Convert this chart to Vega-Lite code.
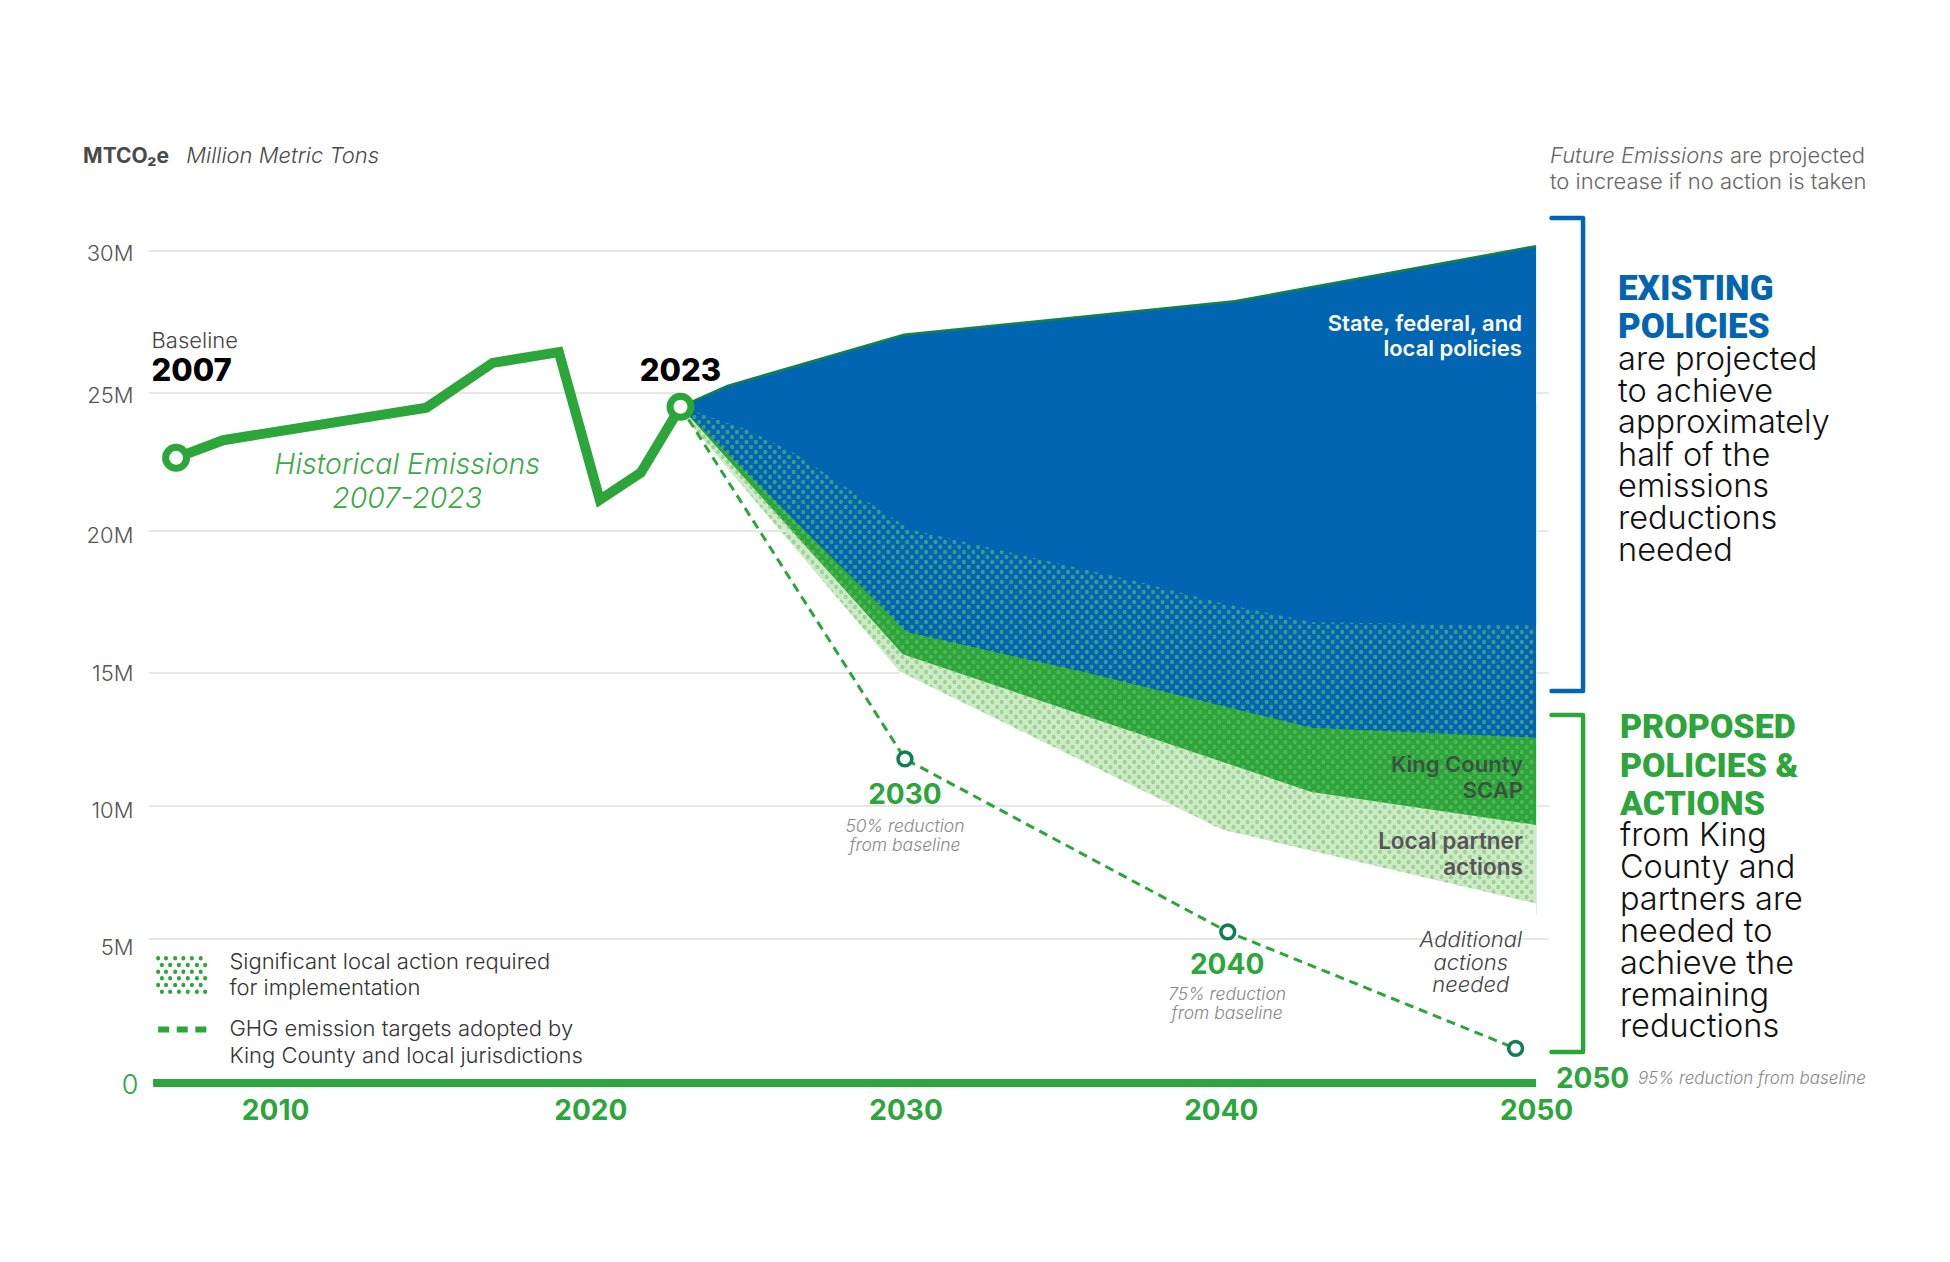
{
  "$schema": "https://vega.github.io/schema/vega-lite/v6.json",
  "width": 1400,
  "height": 832,
  "autosize": {"type": "none"},
  "padding": {"left": 149, "top": 251, "right": 401, "bottom": 179},
  "background": "white",
  "config": {
    "view": {"stroke": null},
    "text": {"font": "Inter", "baseline": "alphabetic"}
  },
  "datasets": {
    "dotsA": [{"yr":2023,"val":24.5,"lo":6},{"yr":2023.3,"val":24.5,"lo":6},{"yr":2023.6,"val":24.5,"lo":6},{"yr":2023.9,"val":24.5,"lo":6},{"yr":2024.2,"val":24.5,"lo":6},{"yr":2024.5,"val":24.5,"lo":6},{"yr":2024.8,"val":24.5,"lo":6},{"yr":2025.1,"val":24.5,"lo":6},{"yr":2025.4,"val":24.5,"lo":6},{"yr":2025.7,"val":24.5,"lo":6},
      {"yr":2026,"val":24.5,"lo":6},{"yr":2026.3,"val":24.5,"lo":6},{"yr":2026.6,"val":24.5,"lo":6},{"yr":2026.9,"val":24.5,"lo":6},{"yr":2027.2,"val":24.5,"lo":6},{"yr":2027.5,"val":24.5,"lo":6},{"yr":2027.8,"val":24.5,"lo":6},{"yr":2028.1,"val":24.5,"lo":6},{"yr":2028.4,"val":24.5,"lo":6},{"yr":2028.7,"val":24.5,"lo":6},
      {"yr":2029,"val":24.5,"lo":6},{"yr":2029.3,"val":24.5,"lo":6},{"yr":2029.6,"val":24.5,"lo":6},{"yr":2029.9,"val":24.5,"lo":6},{"yr":2030.2,"val":24.5,"lo":6},{"yr":2030.5,"val":24.5,"lo":6},{"yr":2030.8,"val":24.5,"lo":6},{"yr":2031.1,"val":24.5,"lo":6},{"yr":2031.4,"val":24.5,"lo":6},{"yr":2031.7,"val":24.5,"lo":6},
      {"yr":2032,"val":24.5,"lo":6},{"yr":2032.3,"val":24.5,"lo":6},{"yr":2032.6,"val":24.5,"lo":6},{"yr":2032.9,"val":24.5,"lo":6},{"yr":2033.2,"val":24.5,"lo":6},{"yr":2033.5,"val":24.5,"lo":6},{"yr":2033.8,"val":24.5,"lo":6},{"yr":2034.1,"val":24.5,"lo":6},{"yr":2034.4,"val":24.5,"lo":6},{"yr":2034.7,"val":24.5,"lo":6},
      {"yr":2035,"val":24.5,"lo":6},{"yr":2035.3,"val":24.5,"lo":6},{"yr":2035.6,"val":24.5,"lo":6},{"yr":2035.9,"val":24.5,"lo":6},{"yr":2036.2,"val":24.5,"lo":6},{"yr":2036.5,"val":24.5,"lo":6},{"yr":2036.8,"val":24.5,"lo":6},{"yr":2037.1,"val":24.5,"lo":6},{"yr":2037.4,"val":24.5,"lo":6},{"yr":2037.7,"val":24.5,"lo":6},
      {"yr":2038,"val":24.5,"lo":6},{"yr":2038.3,"val":24.5,"lo":6},{"yr":2038.6,"val":24.5,"lo":6},{"yr":2038.9,"val":24.5,"lo":6},{"yr":2039.2,"val":24.5,"lo":6},{"yr":2039.5,"val":24.5,"lo":6},{"yr":2039.8,"val":24.5,"lo":6},{"yr":2040.1,"val":24.5,"lo":6},{"yr":2040.4,"val":24.5,"lo":6},{"yr":2040.7,"val":24.5,"lo":6},
      {"yr":2041,"val":24.5,"lo":6},{"yr":2041.3,"val":24.5,"lo":6},{"yr":2041.6,"val":24.5,"lo":6},{"yr":2041.9,"val":24.5,"lo":6},{"yr":2042.2,"val":24.5,"lo":6},{"yr":2042.5,"val":24.5,"lo":6},{"yr":2042.8,"val":24.5,"lo":6},{"yr":2043.1,"val":24.5,"lo":6},{"yr":2043.4,"val":24.5,"lo":6},{"yr":2043.7,"val":24.5,"lo":6},
      {"yr":2044,"val":24.5,"lo":6},{"yr":2044.3,"val":24.5,"lo":6},{"yr":2044.6,"val":24.5,"lo":6},{"yr":2044.9,"val":24.5,"lo":6},{"yr":2045.2,"val":24.5,"lo":6},{"yr":2045.5,"val":24.5,"lo":6},{"yr":2045.8,"val":24.5,"lo":6},{"yr":2046.1,"val":24.5,"lo":6},{"yr":2046.4,"val":24.5,"lo":6},{"yr":2046.7,"val":24.5,"lo":6},
      {"yr":2047,"val":24.5,"lo":6},{"yr":2047.3,"val":24.5,"lo":6},{"yr":2047.6,"val":24.5,"lo":6},{"yr":2047.9,"val":24.5,"lo":6},{"yr":2048.2,"val":24.5,"lo":6},{"yr":2048.5,"val":24.5,"lo":6},{"yr":2048.8,"val":24.5,"lo":6},{"yr":2049.1,"val":24.5,"lo":6},{"yr":2049.4,"val":24.5,"lo":6},{"yr":2049.7,"val":24.5,"lo":6}],
    "dotsB": [{"yr":2023.15,"val":24.5,"lo":6},{"yr":2023.45,"val":24.5,"lo":6},{"yr":2023.75,"val":24.5,"lo":6},{"yr":2024.05,"val":24.5,"lo":6},{"yr":2024.35,"val":24.5,"lo":6},{"yr":2024.65,"val":24.5,"lo":6},{"yr":2024.95,"val":24.5,"lo":6},{"yr":2025.25,"val":24.5,"lo":6},{"yr":2025.55,"val":24.5,"lo":6},{"yr":2025.85,"val":24.5,"lo":6},
      {"yr":2026.15,"val":24.5,"lo":6},{"yr":2026.45,"val":24.5,"lo":6},{"yr":2026.75,"val":24.5,"lo":6},{"yr":2027.05,"val":24.5,"lo":6},{"yr":2027.35,"val":24.5,"lo":6},{"yr":2027.65,"val":24.5,"lo":6},{"yr":2027.95,"val":24.5,"lo":6},{"yr":2028.25,"val":24.5,"lo":6},{"yr":2028.55,"val":24.5,"lo":6},{"yr":2028.85,"val":24.5,"lo":6},
      {"yr":2029.15,"val":24.5,"lo":6},{"yr":2029.45,"val":24.5,"lo":6},{"yr":2029.75,"val":24.5,"lo":6},{"yr":2030.05,"val":24.5,"lo":6},{"yr":2030.35,"val":24.5,"lo":6},{"yr":2030.65,"val":24.5,"lo":6},{"yr":2030.95,"val":24.5,"lo":6},{"yr":2031.25,"val":24.5,"lo":6},{"yr":2031.55,"val":24.5,"lo":6},{"yr":2031.85,"val":24.5,"lo":6},
      {"yr":2032.15,"val":24.5,"lo":6},{"yr":2032.45,"val":24.5,"lo":6},{"yr":2032.75,"val":24.5,"lo":6},{"yr":2033.05,"val":24.5,"lo":6},{"yr":2033.35,"val":24.5,"lo":6},{"yr":2033.65,"val":24.5,"lo":6},{"yr":2033.95,"val":24.5,"lo":6},{"yr":2034.25,"val":24.5,"lo":6},{"yr":2034.55,"val":24.5,"lo":6},{"yr":2034.85,"val":24.5,"lo":6},
      {"yr":2035.15,"val":24.5,"lo":6},{"yr":2035.45,"val":24.5,"lo":6},{"yr":2035.75,"val":24.5,"lo":6},{"yr":2036.05,"val":24.5,"lo":6},{"yr":2036.35,"val":24.5,"lo":6},{"yr":2036.65,"val":24.5,"lo":6},{"yr":2036.95,"val":24.5,"lo":6},{"yr":2037.25,"val":24.5,"lo":6},{"yr":2037.55,"val":24.5,"lo":6},{"yr":2037.85,"val":24.5,"lo":6},
      {"yr":2038.15,"val":24.5,"lo":6},{"yr":2038.45,"val":24.5,"lo":6},{"yr":2038.75,"val":24.5,"lo":6},{"yr":2039.05,"val":24.5,"lo":6},{"yr":2039.35,"val":24.5,"lo":6},{"yr":2039.65,"val":24.5,"lo":6},{"yr":2039.95,"val":24.5,"lo":6},{"yr":2040.25,"val":24.5,"lo":6},{"yr":2040.55,"val":24.5,"lo":6},{"yr":2040.85,"val":24.5,"lo":6},
      {"yr":2041.15,"val":24.5,"lo":6},{"yr":2041.45,"val":24.5,"lo":6},{"yr":2041.75,"val":24.5,"lo":6},{"yr":2042.05,"val":24.5,"lo":6},{"yr":2042.35,"val":24.5,"lo":6},{"yr":2042.65,"val":24.5,"lo":6},{"yr":2042.95,"val":24.5,"lo":6},{"yr":2043.25,"val":24.5,"lo":6},{"yr":2043.55,"val":24.5,"lo":6},{"yr":2043.85,"val":24.5,"lo":6},
      {"yr":2044.15,"val":24.5,"lo":6},{"yr":2044.45,"val":24.5,"lo":6},{"yr":2044.75,"val":24.5,"lo":6},{"yr":2045.05,"val":24.5,"lo":6},{"yr":2045.35,"val":24.5,"lo":6},{"yr":2045.65,"val":24.5,"lo":6},{"yr":2045.95,"val":24.5,"lo":6},{"yr":2046.25,"val":24.5,"lo":6},{"yr":2046.55,"val":24.5,"lo":6},{"yr":2046.85,"val":24.5,"lo":6},
      {"yr":2047.15,"val":24.5,"lo":6},{"yr":2047.45,"val":24.5,"lo":6},{"yr":2047.75,"val":24.5,"lo":6},{"yr":2048.05,"val":24.5,"lo":6},{"yr":2048.35,"val":24.5,"lo":6},{"yr":2048.65,"val":24.5,"lo":6},{"yr":2048.95,"val":24.5,"lo":6},{"yr":2049.25,"val":24.5,"lo":6},{"yr":2049.55,"val":24.5,"lo":6},{"yr":2049.85,"val":24.5,"lo":6}],
    "projected": [{"yr":2022.86,"val":24.5},{"yr":2024.35,"val":25.25},{"yr":2029.95,"val":27.05},{"yr":2040.45,"val":28.23},{"yr":2050,"val":30.17}]
  },
  "encoding": {
    "x": {
      "field": "yr",
      "type": "quantitative",
      "title": null,
      "scale": {"domain": [2006, 2050.41], "nice": false, "zero": false},
      "axis": {
        "values": [2010, 2020, 2030, 2040, 2050],
        "format": "d",
        "domain": false,
        "ticks": false,
        "grid": false,
        "labelFont": "Inter",
        "labelFontWeight": 700,
        "labelFontSize": 28,
        "labelColor": "#2ca53a",
        "labelPadding": 14,
        "labelFlush": false,
        "labelOverlap": false
      }
    },
    "y": {
      "field": "val",
      "type": "quantitative",
      "title": null,
      "scale": {
        "domain": [0, 5, 10, 15, 20, 25, 30],
        "range": [832, 688, 555, 422, 280, 142, 0],
        "nice": false,
        "zero": false
      },
      "axis": {
        "values": [0, 5, 10, 15, 20, 25, 30],
        "labelExpr": "datum.value == 0 ? '0' : datum.value + 'M'",
        "domain": false,
        "ticks": false,
        "grid": false,
        "labelFont": "Inter",
        "labelFontWeight": 300,
        "labelFontSize": {"condition": {"test": "datum.value == 0", "value": 27}, "value": 22},
        "labelColor": {"condition": {"test": "datum.value == 0", "value": "#2ca53a"}, "value": "#555555"},
        "labelPadding": 16,
        "labelOverlap": false,
        "encoding": {
          "labels": {
            "dy": {"value": {"expr": "datum.value == 5 ? 8 : datum.value == 10 ? 4 : datum.value == 20 ? 4 : datum.value == 15 ? 0 : 2"}},
            "dx": {"value": {"expr": "datum.value == 0 ? 5 : 0"}}
          }
        }
      }
    }
  },
  "layer": [
    {
      "data": {"name": "projected"},
      "mark": {"type": "area", "color": "#0265b1"},
      "encoding": {"y2": {"datum": 5.9}}
    },
    {
      "data": {"values": [{"yr":2022.86,"val":24.5},{"yr":2030.04,"val":16.44},{"yr":2035.6,"val":15.05},{"yr":2042.88,"val":12.94},{"yr":2050,"val":12.57}]},
      "mark": {"type": "area", "color": "#2ca53a"},
      "encoding": {"y2": {"datum": 5.9}}
    },
    {
      "data": {"values": [{"yr":2022.86,"val":24.5},{"yr":2029.91,"val":15.66},{"yr":2042.88,"val":10.53},{"yr":2050,"val":9.29}]},
      "mark": {"type": "area", "color": "#d0e9c6"},
      "encoding": {"y2": {"datum": 5.9}}
    },
    {
      "data": {"name": "dotsA"},
      "mark": {"type": "rule", "color": "#6cc46f", "opacity": 0.55, "strokeWidth": 4, "strokeCap": "round", "strokeDash": [0.5, 9.5]},
      "encoding": {"y2": {"field": "lo"}}
    },
    {
      "data": {"name": "dotsB"},
      "mark": {"type": "rule", "color": "#6cc46f", "opacity": 0.55, "strokeWidth": 4, "strokeCap": "round", "strokeDash": [0.5, 9.5], "strokeDashOffset": 5},
      "encoding": {"y2": {"field": "lo"}}
    },
    {
      "data": {"values": [{"yr":2022.86,"val":24.5},{"yr":2025,"val":23.66},{"yr":2026.5,"val":22.8},{"yr":2030.13,"val":20.06},{"yr":2037.4,"val":18.21},{"yr":2040.1,"val":17.44},{"yr":2042.88,"val":16.8},{"yr":2050,"val":16.67}]},
      "mark": {"type": "area", "color": "#0265b1"},
      "encoding": {"y2": {"datum": 24.62}}
    },
    {
      "data": {"values": [{"yr":2022.7,"val":24.5},{"yr":2029.8,"val":15.06},{"yr":2040.05,"val":9.11},{"yr":2050,"val":6.33}]},
      "mark": {"type": "area", "color": "white"},
      "encoding": {"y2": {"datum": 5.8}}
    },
    {
      "data": {"values": [
        {"yr":2006,"yr2":2049.2,"val":30},
        {"yr":2006,"yr2":2022.86,"val":25},{"yr":2050,"yr2":2050.41,"val":25},
        {"yr":2006,"yr2":2026.2,"val":20},{"yr":2050,"yr2":2050.41,"val":20},
        {"yr":2006,"yr2":2029.8,"val":15},{"yr":2050,"yr2":2050.41,"val":15},
        {"yr":2006,"yr2":2038.44,"val":10},{"yr":2050,"yr2":2050.41,"val":10},
        {"yr":2006,"yr2":2050.41,"val":5}
      ]},
      "mark": {"type": "rule", "color": "#e8e8e8", "strokeWidth": 2},
      "encoding": {"x2": {"field": "yr2"}}
    },
    {
      "data": {"values": [{"yr":2006.13,"yr2":2050,"val":0}]},
      "mark": {"type": "rule", "color": "#2ca53a", "strokeWidth": 8},
      "encoding": {"x2": {"field": "yr2"}}
    },
    {
      "data": {"name": "projected"},
      "mark": {"type": "line", "color": "#12804f", "strokeWidth": 2.5}
    },
    {
      "data": {"values": [{"yr":2022.86,"val":24.5},{"yr":2029.98,"val":11.77},{"yr":2040.22,"val":5.27},{"yr":2049.35,"val":1.2}]},
      "mark": {"type": "line", "color": "#2ca53a", "strokeWidth": 3, "strokeDash": [9, 6]}
    },
    {
      "data": {"values": [{"yr":2029.98,"val":11.77},{"yr":2040.22,"val":5.27},{"yr":2049.35,"val":1.2}]},
      "mark": {"type": "circle", "fill": "white", "stroke": "#0f7f52", "strokeWidth": 3.5, "size": 190, "opacity": 1}
    },
    {
      "data": {"values": [
        {"yr":2006.86,"val":22.65},{"yr":2008.35,"val":23.29},{"yr":2014.8,"val":24.47},{"yr":2016.9,"val":26.06},
        {"yr":2019.0,"val":26.44},{"yr":2020.3,"val":21.13},{"yr":2021.6,"val":22.11},{"yr":2022.86,"val":24.5}
      ]},
      "mark": {"type": "line", "color": "#2ca53a", "strokeWidth": 10, "strokeJoin": "miter"}
    },
    {
      "data": {"values": [{"yr":2006.86,"val":22.65},{"yr":2022.86,"val":24.5}]},
      "mark": {"type": "circle", "fill": "white", "stroke": "#2ca53a", "strokeWidth": 7, "size": 440, "opacity": 1}
    },
    {
      "data": {"values": [{"i":1,"yr":2050.49,"val":31.16},{"i":2,"yr":2051.49,"val":31.16},{"i":3,"yr":2051.49,"val":14.32},{"i":4,"yr":2050.49,"val":14.32}]},
      "mark": {"type": "line", "color": "#0265b1", "strokeWidth": 4.5, "strokeCap": "round", "strokeJoin": "round"},
      "encoding": {"order": {"field": "i"}}
    },
    {
      "data": {"values": [{"i":1,"yr":2050.49,"val":13.42},{"i":2,"yr":2051.49,"val":13.42},{"i":3,"yr":2051.49,"val":1.08},{"i":4,"yr":2050.49,"val":1.08}]},
      "mark": {"type": "line", "color": "#2ca53a", "strokeWidth": 4.5, "strokeCap": "round", "strokeJoin": "round"},
      "encoding": {"order": {"field": "i"}}
    },
    {
      "data": {"values": [{"yr":2006.29,"val":4.34,"lo":3.22},{"yr":2006.54,"val":4.34,"lo":3.22},{"yr":2006.83,"val":4.34,"lo":3.22},{"yr":2007.09,"val":4.34,"lo":3.22},{"yr":2007.36,"val":4.34,"lo":3.22},{"yr":2007.64,"val":4.34,"lo":3.22}]},
      "mark": {"type": "rule", "color": "#2ca53a", "strokeWidth": 4, "strokeCap": "round", "strokeDash": [0.5, 12.9]},
      "encoding": {"y2": {"field": "lo"}}
    },
    {
      "data": {"values": [{"yr":2006.41,"val":4.11,"lo":3},{"yr":2006.67,"val":4.11,"lo":3},{"yr":2006.95,"val":4.11,"lo":3},{"yr":2007.23,"val":4.11,"lo":3},{"yr":2007.52,"val":4.11,"lo":3},{"yr":2007.78,"val":4.11,"lo":3}]},
      "mark": {"type": "rule", "color": "#2ca53a", "strokeWidth": 4, "strokeCap": "round", "strokeDash": [0.5, 12.9]},
      "encoding": {"y2": {"field": "lo"}}
    },
    {
      "data": {"values": [{"yr":2006.29,"yr2":2007.82,"val":1.86}]},
      "mark": {"type": "rule", "color": "#2ca53a", "strokeWidth": 6, "strokeDash": [11, 7.6]},
      "encoding": {"x2": {"field": "yr2"}}
    },
    {
      "data": {"values": [{"yr":2003.91,"val":33.11,"t":"MTCO₂e"}]},
      "mark": {"type": "text", "align": "left", "fontSize": 21, "fontWeight": 700, "color": "#4a4a4a"},
      "encoding": {"text": {"field": "t"}}
    },
    {
      "data": {"values": [{"yr":2007.18,"val":33.11,"t":"Million Metric Tons"}]},
      "mark": {"type": "text", "align": "left", "fontSize": 22, "fontWeight": 300, "fontStyle": "italic", "color": "#4a4a4a"},
      "encoding": {"text": {"field": "t"}}
    },
    {
      "data": {"values": [{"yr":2006.08,"val":26.6,"t":"Baseline"}]},
      "mark": {"type": "text", "align": "left", "fontSize": 22, "fontWeight": 300, "color": "#444444"},
      "encoding": {"text": {"field": "t"}}
    },
    {
      "data": {"values": [{"yr":2006.08,"val":25.43,"t":"2007"}]},
      "mark": {"type": "text", "align": "left", "fontSize": 31, "fontWeight": 800, "color": "black"},
      "encoding": {"text": {"field": "t"}}
    },
    {
      "data": {"values": [{"yr":2022.86,"val":25.43,"t":"2023"}]},
      "mark": {"type": "text", "align": "center", "fontSize": 31, "fontWeight": 800, "color": "black"},
      "encoding": {"text": {"field": "t"}}
    },
    {
      "data": {"values": [{"yr":2014.19,"val":22.05,"t":"Historical Emissions"},{"yr":2014.19,"val":20.82,"t":"2007-2023"}]},
      "mark": {"type": "text", "align": "center", "fontSize": 28.5, "fontWeight": 300, "fontStyle": "italic", "color": "#3aaa48"},
      "encoding": {"text": {"field": "t"}}
    },
    {
      "data": {"values": [{"yr":2050.44,"val":33.11,"t":"Future Emissions"}]},
      "mark": {"type": "text", "align": "left", "fontSize": 22, "fontWeight": 300, "fontStyle": "italic", "color": "#666666"},
      "encoding": {"text": {"field": "t"}}
    },
    {
      "data": {"values": [{"yr":2056.15,"val":33.11,"t":"are projected"},{"yr":2050.44,"val":32.18,"t":"to increase if no action is taken"}]},
      "mark": {"type": "text", "align": "left", "fontSize": 22, "fontWeight": 300, "color": "#666666"},
      "encoding": {"text": {"field": "t"}}
    },
    {
      "data": {"values": [{"yr":2052.6,"val":28.27,"t":"EXISTING"},{"yr":2052.6,"val":26.93,"t":"POLICIES"}]},
      "mark": {"type": "text", "align": "left", "font": "Roboto", "fontSize": 35, "fontWeight": 900, "color": "#0265b1"},
      "encoding": {"text": {"field": "t"}}
    },
    {
      "data": {"values": [{"yr":2052.66,"val":12.55,"t":"PROPOSED"},{"yr":2052.66,"val":11.1,"t":"POLICIES &"},{"yr":2052.66,"val":9.66,"t":"ACTIONS"}]},
      "mark": {"type": "text", "align": "left", "font": "Roboto", "fontSize": 34, "fontWeight": 900, "color": "#2ca53a"},
      "encoding": {"text": {"field": "t"}}
    },
    {
      "data": {"values": [
        {"yr":2052.6,"val":25.81,"t":"are projected"},{"yr":2052.6,"val":24.68,"t":"to achieve"},{"yr":2052.6,"val":23.55,"t":"approximately"},
        {"yr":2052.6,"val":22.37,"t":"half of the"},{"yr":2052.6,"val":21.24,"t":"emissions"},{"yr":2052.6,"val":20.07,"t":"reductions"},{"yr":2052.6,"val":18.95,"t":"needed"},
        {"yr":2052.66,"val":8.5,"t":"from King"},{"yr":2052.66,"val":7.28,"t":"County and"},{"yr":2052.66,"val":6.09,"t":"partners are"},
        {"yr":2052.66,"val":4.91,"t":"needed to"},{"yr":2052.66,"val":3.77,"t":"achieve the"},{"yr":2052.66,"val":2.67,"t":"remaining"},{"yr":2052.66,"val":1.58,"t":"reductions"}
      ]},
      "mark": {"type": "text", "align": "left", "fontSize": 32.5, "fontWeight": 300, "color": "#111111"},
      "encoding": {"text": {"field": "t"}}
    },
    {
      "data": {"values": [{"yr":2050.63,"val":-0.19,"t":"2050"}]},
      "mark": {"type": "text", "align": "left", "fontSize": 28, "fontWeight": 700, "color": "#2ca53a"},
      "encoding": {"text": {"field": "t"}}
    },
    {
      "data": {"values": [{"yr":2053.23,"val":-0.04,"t":"95% reduction from baseline"}]},
      "mark": {"type": "text", "align": "left", "fontSize": 17, "fontWeight": 300, "fontStyle": "italic", "color": "#888888"},
      "encoding": {"text": {"field": "t"}}
    },
    {
      "data": {"values": [{"yr":2049.55,"val":27.19,"t":"State, federal, and"},{"yr":2049.55,"val":26.3,"t":"local policies"}]},
      "mark": {"type": "text", "align": "right", "fontSize": 22, "fontWeight": 600, "color": "white"},
      "encoding": {"text": {"field": "t"}}
    },
    {
      "data": {"values": [{"yr":2049.58,"val":11.26,"t":"King County"},{"yr":2049.58,"val":10.3,"t":"SCAP"}]},
      "mark": {"type": "text", "align": "right", "fontSize": 22, "fontWeight": 600, "color": "#3b5240"},
      "encoding": {"text": {"field": "t"}}
    },
    {
      "data": {"values": [{"yr":2049.58,"val":8.38,"t":"Local partner"},{"yr":2049.58,"val":7.4,"t":"actions"}]},
      "mark": {"type": "text", "align": "right", "fontSize": 22.5, "fontWeight": 600, "color": "#555555"},
      "encoding": {"text": {"field": "t"}}
    },
    {
      "data": {"values": [{"yr":2047.93,"val":4.73,"t":"Additional"},{"yr":2047.93,"val":3.94,"t":"actions"},{"yr":2047.93,"val":3.16,"t":"needed"}]},
      "mark": {"type": "text", "align": "center", "fontSize": 22, "fontWeight": 300, "fontStyle": "italic", "color": "#444444"},
      "encoding": {"text": {"field": "t"}}
    },
    {
      "data": {"values": [{"yr":2029.98,"val":10.09,"t":"2030"},{"yr":2040.2,"val":3.77,"t":"2040"}]},
      "mark": {"type": "text", "align": "center", "fontSize": 28, "fontWeight": 700, "color": "#2ca53a"},
      "encoding": {"text": {"field": "t"}}
    },
    {
      "data": {"values": [
        {"yr":2029.98,"val":9.02,"t":"50% reduction"},{"yr":2029.98,"val":8.3,"t":"from baseline"},
        {"yr":2040.2,"val":2.88,"t":"75% reduction"},{"yr":2040.2,"val":2.21,"t":"from baseline"}
      ]},
      "mark": {"type": "text", "align": "center", "fontSize": 17.5, "fontWeight": 300, "fontStyle": "italic", "color": "#888888"},
      "encoding": {"text": {"field": "t"}}
    },
    {
      "data": {"values": [
        {"yr":2008.55,"val":3.96,"t":"Significant local action required"},{"yr":2008.55,"val":3.07,"t":"for implementation"},
        {"yr":2008.55,"val":1.62,"t":"GHG emission targets adopted by"},{"yr":2008.55,"val":0.71,"t":"King County and local jurisdictions"}
      ]},
      "mark": {"type": "text", "align": "left", "fontSize": 22, "fontWeight": 300, "color": "#333333"},
      "encoding": {"text": {"field": "t"}}
    }
  ]
}
